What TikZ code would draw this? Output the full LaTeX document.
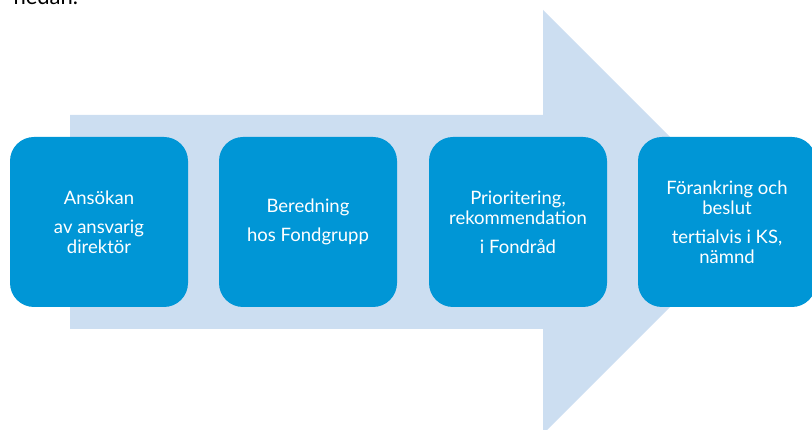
\documentclass[tikz,border=0pt]{standalone}
\usepackage{fontspec}
\setmainfont{Lato}
\usetikzlibrary{positioning}

\definecolor{stepblue}{RGB}{0,150,214}
\definecolor{flowblue}{RGB}{204,222,241}

\begin{document}
\begin{tikzpicture}[x=1pt, y=-1pt,
        stepbox/.style={fill=stepblue, draw=none, rounded corners=24pt,
            minimum width=178pt, minimum height=170pt, text=white,
            align=center, font=\fontsize{18.5}{20}\selectfont, inner sep=0pt}]
        \clip (0,0) rectangle (812,430);
        \useasboundingbox (0,0) rectangle (812,430);
        \node[anchor=base west, font=\fontsize{22}{26}\selectfont] (nedan) at (10,5) {nedan.};
        % big arrow behind the steps
        \fill[flowblue] (70,115) -- (543,115) -- (543,10) -- (755,222)
            -- (543,434) -- (543,329) -- (70,329) -- cycle;
        \node[stepbox] (ansokan) at (99,222) {Ans\"okan\\[9pt]av ansvarig\\direkt\"or};
        \node[stepbox] (beredning) at (308,222) {Beredning\\[9pt]hos Fondgrupp};
        \node[stepbox] (prio) at (518,222) {Prioritering,\\rekommendation\\[9pt]i Fondr\aa d};
        \node[stepbox] (beslut) at (727,222) {F\"orankring och\\beslut\\[9pt]tertialvis i KS,\\n\"amnd};
    \end{tikzpicture}
\end{document}
